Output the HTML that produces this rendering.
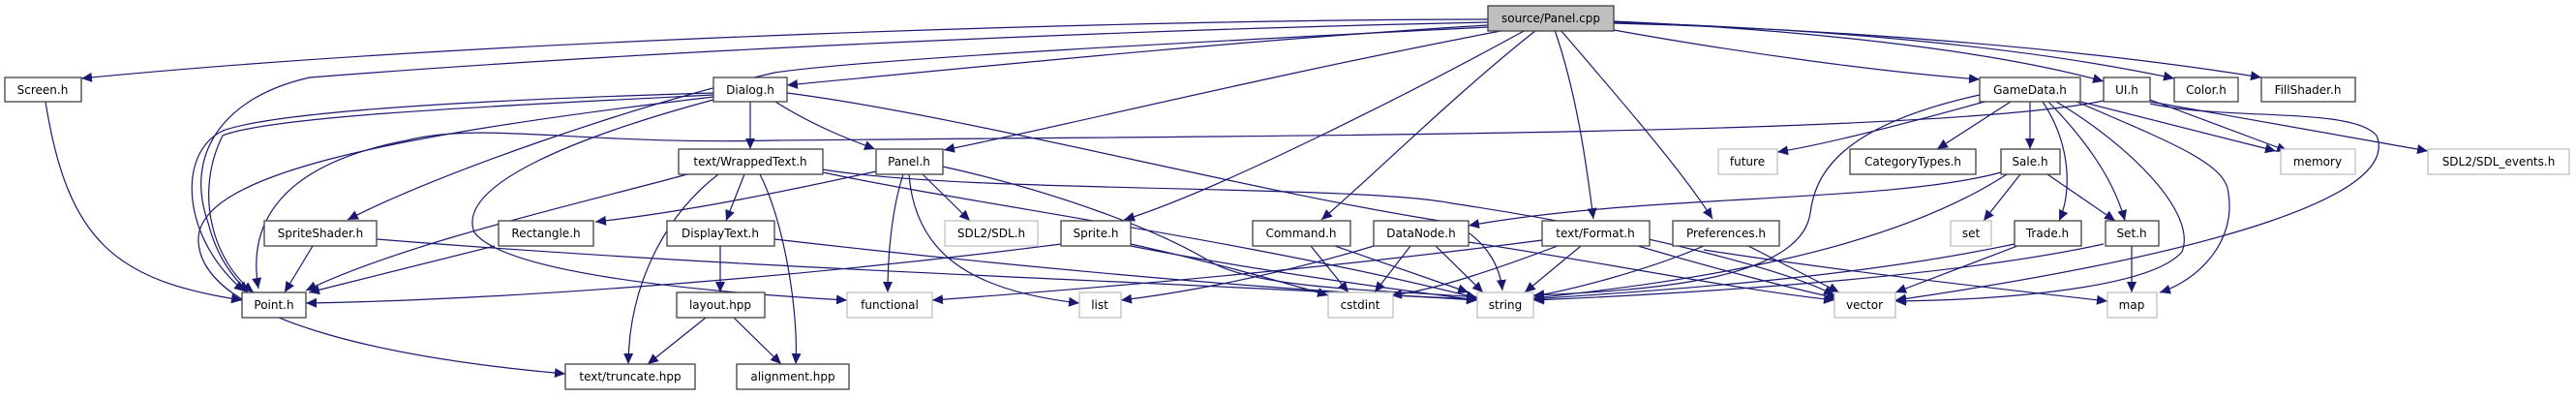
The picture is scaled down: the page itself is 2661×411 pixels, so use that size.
<!DOCTYPE html>
<html><head><meta charset="utf-8"><style>
html,body{margin:0;padding:0;background:#fff;}
svg{display:block;}
text{font-family:"DejaVu Sans","Liberation Sans",sans-serif;font-size:12px;fill:#000;}
.n{fill:#fff;stroke:#404040;stroke-width:1.3;}
.g{fill:#fff;stroke:#bfbfbf;stroke-width:1.3;}
.e{fill:none;stroke:#191970;stroke-width:1.2;}
</style></head><body>
<svg width="2661" height="411" viewBox="0 0 2661 411" xmlns="http://www.w3.org/2000/svg">
<defs><marker id="a" markerUnits="userSpaceOnUse" markerWidth="12" markerHeight="10" refX="11" refY="5" orient="auto"><path d="M0,0 L11,5 L0,10 z" fill="#191970"/></marker></defs>
<g class="e" marker-end="url(#a)">
<!-- Panel.cpp edges -->
<path d="M1537,20 C1200,20 500,40 84,81"/>
<path d="M1537,23 C1200,30 700,50 320,80 C230,100 190,160 215,230 C225,270 245,290 256,302"/>
<path d="M1537,26 C1300,40 1000,70 813,88"/>
<path d="M1537,28 C1300,40 900,60 800,75 C650,110 450,180 359,227"/>
<path d="M1550,32 C1300,80 1100,130 975,155"/>
<path d="M1576,31 C1450,100 1250,200 1161,227"/>
<path d="M1587,31 C1500,100 1420,180 1365,227"/>
<path d="M1606,31 C1630,100 1640,180 1646,226"/>
<path d="M1612,31 C1680,110 1740,180 1769,226"/>
<path d="M1667,31 C1800,55 1950,75 2045,82"/>
<path d="M1667,22 C1850,30 2050,50 2173,84"/>
<path d="M1667,23 C1900,30 2100,50 2246,81"/>
<path d="M1667,24 C1900,30 2150,50 2336,80"/>
<!-- Screen -->
<path d="M47,105 C70,250 120,290 250,310"/>
<!-- Dialog -->
<path d="M775,105 L775,154"/>
<path d="M801,105 C840,130 880,145 904,154"/>
<path d="M737,96 C600,100 300,110 230,135 C180,160 190,250 253,301"/>
<path d="M737,98 C500,110 280,120 230,140 C200,200 220,270 262,302"/>
<path d="M737,100 C400,140 200,180 205,250 C210,330 400,370 584,386"/>
<path d="M737,103 C600,140 470,190 490,240 C520,280 700,300 875,310"/>
<path d="M813,96 C1000,120 1300,200 1500,230 C1540,250 1550,280 1552,300"/>
<!-- UI -> Point -->
<path d="M2173,104 C2000,140 1300,140 800,145 C600,150 500,125 420,145 C290,170 255,230 267,298"/>
<!-- WrappedText -->
<path d="M710,180 C600,210 420,250 316,300"/>
<path d="M742,180 C690,220 650,290 649,376"/>
<path d="M769,180 L750,228"/>
<path d="M785,180 C810,230 825,320 822,376"/>
<path d="M850,175 C1000,200 1400,190 1500,210 C1700,240 1850,280 1895,305"/>
<path d="M850,178 C1000,210 1300,250 1526,308"/>
<!-- Row4 left -->
<path d="M323,254 L294,302"/>
<path d="M511,254 L319,302"/>
<path d="M1096,252 C800,290 500,310 316,313"/>
<path d="M389,247 C800,280 1200,290 1526,310"/>
<path d="M800,247 C1000,270 1300,300 1526,309"/>
<path d="M744,254 L744,302"/>
<path d="M729,328 L669,376"/>
<path d="M758,328 L807,376"/>
<!-- Panel.h -->
<path d="M905,177 C800,200 700,220 615,229"/>
<path d="M933,180 C920,220 917,270 917,302"/>
<path d="M939,180 C945,260 1000,300 1115,313"/>
<path d="M953,180 L1002,228"/>
<path d="M974,172 C1100,200 1200,240 1250,270 C1300,300 1450,300 1526,307"/>
<!-- Sprite, Command, DataNode -->
<path d="M1168,252 C1250,270 1320,290 1372,305"/>
<path d="M1168,254 C1300,280 1450,300 1526,310"/>
<path d="M1354,254 L1393,302"/>
<path d="M1379,254 L1517,302"/>
<path d="M1419,254 C1300,290 1200,305 1158,310"/>
<path d="M1457,254 L1420,302"/>
<path d="M1483,254 L1532,302"/>
<path d="M1517,250 C1650,270 1800,300 1895,310"/>
<!-- Format -->
<path d="M1593,248 C1350,280 1100,300 963,310"/>
<path d="M1609,254 C1540,280 1480,300 1437,305"/>
<path d="M1633,254 L1575,302"/>
<path d="M1692,254 C1780,280 1860,300 1898,308"/>
<!-- Preferences -->
<path d="M1760,254 C1700,280 1620,300 1584,306"/>
<path d="M1806,254 L1900,302"/>
<path d="M1760,258 C1900,280 2080,300 2177,311"/>
<!-- GameData -->
<path d="M2050,105 C1960,130 1880,150 1836,157"/>
<path d="M2077,105 L2001,154"/>
<path d="M2097,105 L2097,154"/>
<path d="M2045,98 C1900,130 1875,180 1870,220 C1860,290 1700,300 1584,305"/>
<path d="M2110,105 C2140,150 2140,200 2127,228"/>
<path d="M2116,105 C2160,150 2185,190 2195,228"/>
<path d="M2124,105 C2200,150 2270,220 2254,260 C2220,300 2050,310 1958,311"/>
<path d="M2145,105 C2250,150 2300,170 2302,200 C2310,250 2270,290 2231,302"/>
<path d="M2149,105 L2351,156"/>
<!-- UI -->
<path d="M2221,103 L2363,156"/>
<path d="M2221,105 L2508,156"/>
<path d="M2221,107 C2300,125 2430,110 2455,140 C2480,200 2300,260 1958,310"/>
<!-- Sale -->
<path d="M2067,178 C1950,210 1700,200 1517,233"/>
<path d="M2087,180 L2049,228"/>
<path d="M2115,180 L2185,228"/>
<path d="M2073,180 C1950,260 1750,290 1584,308"/>
<!-- Trade, Set -->
<path d="M2084,254 L1958,302"/>
<path d="M2081,252 C1900,290 1700,300 1584,309"/>
<path d="M2202,254 L2202,302"/>
<path d="M2173,252 C2000,290 1700,305 1584,310"/>
</g>
<!-- nodes -->
<rect x="1537" y="6" width="130" height="26" fill="#bfbfbf" stroke="#404040" stroke-width="1.3"/><text x="1602" y="23" text-anchor="middle">source/Panel.cpp</text>
<rect class="n" x="5" y="80" width="79" height="25"/><text x="44" y="97" text-anchor="middle">Screen.h</text>
<rect class="n" x="737" y="80" width="76" height="25"/><text x="775" y="97" text-anchor="middle">Dialog.h</text>
<rect class="n" x="2045" y="80" width="104" height="25"/><text x="2097" y="97" text-anchor="middle">GameData.h</text>
<rect class="n" x="2173" y="80" width="48" height="25"/><text x="2197" y="97" text-anchor="middle">UI.h</text>
<rect class="n" x="2246" y="80" width="66" height="25"/><text x="2279" y="97" text-anchor="middle">Color.h</text>
<rect class="n" x="2336" y="80" width="97" height="25"/><text x="2384" y="97" text-anchor="middle">FillShader.h</text>
<rect class="n" x="701" y="154" width="149" height="26"/><text x="775" y="171" text-anchor="middle">text/WrappedText.h</text>
<rect class="n" x="905" y="154" width="69" height="26"/><text x="939" y="171" text-anchor="middle">Panel.h</text>
<rect class="g" x="1775" y="154" width="61" height="26"/><text x="1805" y="171" text-anchor="middle">future</text>
<rect class="n" x="1911" y="154" width="130" height="26"/><text x="1976" y="171" text-anchor="middle">CategoryTypes.h</text>
<rect class="n" x="2067" y="154" width="61" height="26"/><text x="2097" y="171" text-anchor="middle">Sale.h</text>
<rect class="g" x="2356" y="154" width="77" height="26"/><text x="2394" y="171" text-anchor="middle">memory</text>
<rect class="g" x="2508" y="154" width="146" height="26"/><text x="2581" y="171" text-anchor="middle">SDL2/SDL_events.h</text>
<rect class="n" x="273" y="228" width="116" height="26"/><text x="331" y="245" text-anchor="middle">SpriteShader.h</text>
<rect class="n" x="515" y="228" width="98" height="26"/><text x="564" y="245" text-anchor="middle">Rectangle.h</text>
<rect class="n" x="689" y="228" width="111" height="26"/><text x="744" y="245" text-anchor="middle">DisplayText.h</text>
<rect class="g" x="976" y="228" width="96" height="26"/><text x="1024" y="245" text-anchor="middle">SDL2/SDL.h</text>
<rect class="n" x="1096" y="228" width="72" height="26"/><text x="1132" y="245" text-anchor="middle">Sprite.h</text>
<rect class="n" x="1294" y="228" width="101" height="26"/><text x="1344" y="245" text-anchor="middle">Command.h</text>
<rect class="n" x="1419" y="228" width="98" height="26"/><text x="1468" y="245" text-anchor="middle">DataNode.h</text>
<rect class="n" x="1593" y="228" width="111" height="26"/><text x="1648" y="245" text-anchor="middle">text/Format.h</text>
<rect class="n" x="1728" y="228" width="110" height="26"/><text x="1783" y="245" text-anchor="middle">Preferences.h</text>
<rect class="g" x="2015" y="228" width="42" height="26"/><text x="2036" y="245" text-anchor="middle">set</text>
<rect class="n" x="2081" y="228" width="69" height="26"/><text x="2115" y="245" text-anchor="middle">Trade.h</text>
<rect class="n" x="2175" y="228" width="55" height="26"/><text x="2202" y="245" text-anchor="middle">Set.h</text>
<rect class="n" x="250" y="302" width="66" height="26"/><text x="283" y="319" text-anchor="middle">Point.h</text>
<rect class="n" x="699" y="302" width="91" height="26"/><text x="744" y="319" text-anchor="middle">layout.hpp</text>
<rect class="g" x="875" y="302" width="88" height="26"/><text x="919" y="319" text-anchor="middle">functional</text>
<rect class="g" x="1115" y="302" width="43" height="26"/><text x="1136" y="319" text-anchor="middle">list</text>
<rect class="g" x="1372" y="302" width="67" height="26"/><text x="1405" y="319" text-anchor="middle">cstdint</text>
<rect class="g" x="1526" y="302" width="58" height="26"/><text x="1555" y="319" text-anchor="middle">string</text>
<rect class="g" x="1895" y="302" width="63" height="26"/><text x="1926" y="319" text-anchor="middle">vector</text>
<rect class="g" x="2177" y="302" width="51" height="26"/><text x="2202" y="319" text-anchor="middle">map</text>
<rect class="n" x="584" y="376" width="134" height="26"/><text x="651" y="393" text-anchor="middle">text/truncate.hpp</text>
<rect class="n" x="761" y="376" width="116" height="26"/><text x="819" y="393" text-anchor="middle">alignment.hpp</text>
</svg>
</body></html>
